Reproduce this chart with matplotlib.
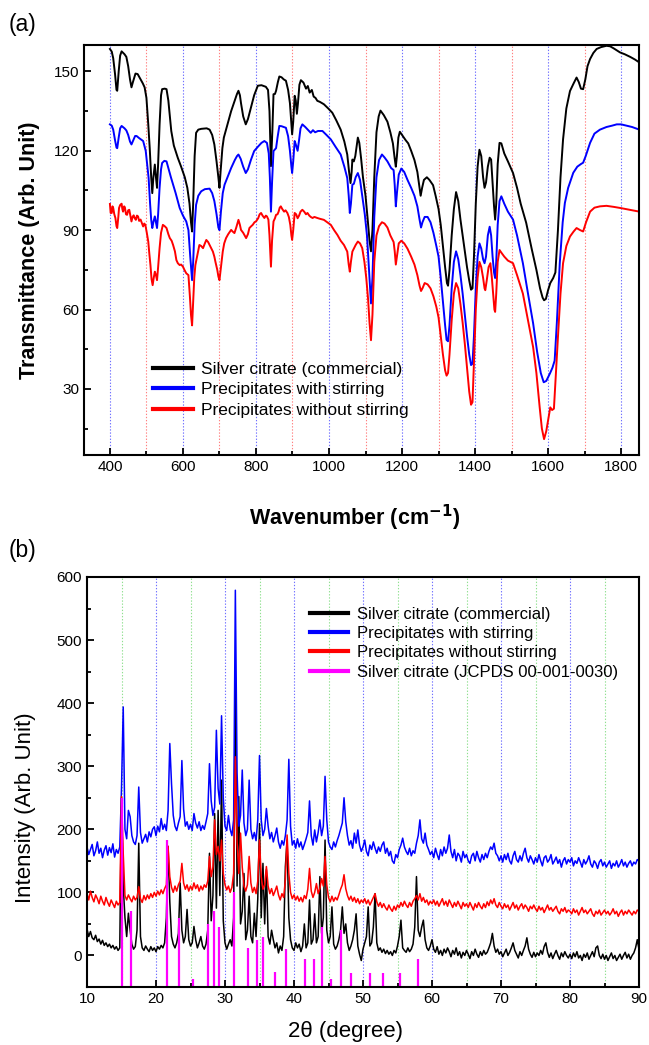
import numpy as np
import matplotlib
matplotlib.use("Agg")
import matplotlib.pyplot as plt
from matplotlib.ticker import MultipleLocator
from matplotlib.lines import Line2D

plt.rcParams['font.family'] = ['Liberation Sans', 'DejaVu Sans']

# ---------------- (a) FT-IR data (wavenumber, transmittance) ----------------
ir_black = [
    (400, 158.5), (405, 157.5), (409, 155), (414, 149), (418, 143), (420, 142.7), (424, 150), (428, 156),
    (432, 157.6), (440, 156.5), (445, 155.5), (450, 152), (455, 147), (459, 144), (463, 146), (470, 149.2),
    (476, 149), (482, 147.5), (490, 145.5), (495, 144), (500, 140), (505, 130), (509, 121), (513, 110),
    (516, 104), (519, 110), (523, 114.8), (526, 110), (529, 106), (532, 115), (536, 130), (540, 141),
    (543, 143.3), (550, 143.5), (555, 143.3), (560, 139), (568, 127.5), (575, 122), (586, 117.3), (595, 114),
    (605, 110), (612, 106), (618, 100), (622, 93), (625, 89.5), (628, 100), (632, 118), (636, 126.8),
    (642, 128), (650, 128.3), (665, 128.5), (673, 128), (680, 126), (686, 122.4), (692, 116), (697, 110),
    (700, 106), (703, 112), (708, 121), (712, 125), (720, 129), (732, 135), (742, 139), (748, 141.5),
    (752, 142.7), (756, 141), (759, 138), (765, 133), (772, 130), (778, 132), (786, 136.3), (795, 141),
    (805, 144.6), (815, 144.8), (827, 144.2), (833, 143), (837, 135), (841, 114.2), (845, 128), (848, 141.4),
    (852, 141.5), (855, 142.7), (860, 146), (864, 148.1), (870, 147.8), (876, 147), (882, 146.5), (888, 143),
    (893, 138), (897, 130), (899, 126.2), (902, 131), (906, 140.8), (909, 139), (912, 134), (915, 138),
    (919, 145), (923, 146.7), (930, 145.8), (937, 143.5), (942, 144.5), (947, 142), (953, 143), (958, 140.5),
    (963, 140), (968, 138.9), (975, 138.5), (986, 137.6), (998, 136), (1009, 134.4), (1020, 131.5), (1032, 128),
    (1042, 123.5), (1050, 118.6), (1055, 112), (1059, 107.8), (1062, 112), (1064, 116.7), (1068, 116), (1072, 118),
    (1076, 122), (1079, 125), (1083, 123), (1088, 117), (1093, 110), (1100, 103), (1106, 94), (1111, 86),
    (1115, 82), (1119, 90), (1124, 110), (1130, 127), (1136, 133), (1141, 135.2), (1150, 133.5), (1160, 131),
    (1168, 127), (1175, 122.8), (1180, 117), (1183, 114), (1186, 118), (1190, 125), (1194, 127.2), (1200, 126),
    (1210, 124), (1217, 122.8), (1225, 120), (1234, 116.5), (1242, 112), (1247, 107), (1251, 103), (1255, 106),
    (1260, 109), (1268, 110), (1275, 109), (1285, 107), (1292, 103), (1300, 98), (1306, 92), (1312, 84),
    (1318, 76), (1323, 70), (1326, 69), (1330, 75), (1336, 88), (1342, 98), (1348, 104.4), (1354, 101),
    (1360, 94), (1366, 88), (1372, 82), (1378, 76), (1384, 71), (1389, 67.5), (1393, 68), (1397, 80),
    (1402, 100), (1407, 114), (1412, 120.4), (1417, 118), (1422, 110), (1426, 106), (1430, 108), (1435, 114),
    (1440, 117.4), (1444, 116.7), (1448, 108), (1452, 99), (1455, 94), (1458, 100), (1462, 115), (1467, 123),
    (1472, 122.8), (1480, 119), (1490, 116), (1504, 111.6), (1515, 106), (1525, 100), (1540, 92.8), (1555, 83),
    (1568, 75), (1578, 68), (1585, 64.5), (1589, 63.5), (1594, 64), (1600, 67.3), (1606, 70), (1614, 71.9),
    (1620, 74), (1627, 90), (1634, 110), (1641, 124.3), (1650, 136), (1660, 142.6), (1670, 145.5), (1678, 147.7),
    (1684, 146), (1690, 143.5), (1696, 143.3), (1702, 147), (1708, 152), (1715, 154.7), (1724, 157), (1733, 158.5),
    (1745, 159.2), (1760, 159.7), (1770, 159.5), (1780, 158.7), (1797, 157.2), (1810, 156.5), (1825, 155.5),
    (1838, 154.5), (1850, 153.4),
]

ir_blue = [
    (400, 130), (405, 129.5), (409, 128), (414, 124), (418, 121.2), (420, 121), (424, 125), (428, 128.5),
    (432, 129.4), (440, 128.5), (445, 127.7), (450, 126), (455, 123.5), (459, 122.4), (464, 124), (469, 125.6),
    (473, 125.6), (480, 124.8), (491, 123.7), (498, 120), (502, 115), (506, 109.7), (510, 100), (513, 94),
    (516, 90.8), (519, 93), (523, 95.2), (526, 93), (529, 90.8), (532, 96), (536, 106), (540, 113),
    (543, 115.4), (549, 116.2), (555, 116), (561, 113), (567, 110), (573, 107.2), (580, 104), (591, 98.4),
    (600, 95.5), (609, 93.3), (615, 90), (620, 80), (625, 71.1), (628, 78), (632, 92), (636, 99.6),
    (642, 103), (650, 104.7), (660, 105.5), (673, 105.7), (680, 104), (686, 101), (692, 96), (697, 91),
    (700, 90), (704, 97), (709, 104), (714, 107.2), (722, 110), (732, 113.5), (742, 116.5), (748, 118),
    (752, 118.6), (758, 117), (765, 114), (772, 111.6), (778, 113), (786, 116.5), (795, 119.9), (805, 121.5),
    (815, 123), (823, 123.7), (830, 123), (835, 119), (838, 110), (841, 97), (844, 108), (848, 119.9),
    (852, 120.5), (855, 121), (859, 125), (864, 129.4), (870, 129.3), (876, 129), (882, 128.7), (888, 125.5),
    (893, 120), (897, 114), (899, 111.6), (902, 116), (906, 123.7), (910, 122), (914, 120), (918, 124),
    (922, 128.5), (927, 130), (935, 129), (942, 128), (950, 126.8), (956, 127.8), (962, 127), (970, 127.5),
    (982, 127.5), (993, 126), (1005, 124.3), (1018, 121.5), (1032, 118.6), (1042, 114), (1050, 109.7), (1054, 103),
    (1057, 96.5), (1060, 100), (1064, 107.2), (1068, 107.5), (1073, 110), (1079, 111.6), (1085, 109), (1091, 103),
    (1098, 96), (1104, 88), (1110, 74), (1115, 62.3), (1119, 72), (1124, 95), (1130, 110), (1137, 116.5),
    (1145, 118.6), (1152, 117.5), (1160, 116), (1170, 113.5), (1177, 112.7), (1180, 107), (1183, 99), (1186, 104),
    (1191, 111), (1198, 113.3), (1206, 112), (1215, 109), (1225, 106), (1234, 103), (1242, 99), (1248, 94),
    (1252, 91), (1256, 93), (1262, 95), (1270, 95), (1278, 93), (1286, 89), (1294, 84), (1300, 80),
    (1306, 72), (1312, 63), (1318, 54), (1322, 48.5), (1326, 48), (1330, 54), (1336, 68), (1342, 78),
    (1348, 82), (1354, 79), (1360, 73), (1366, 66), (1372, 58), (1378, 50), (1384, 43), (1389, 39),
    (1393, 39.5), (1397, 50), (1402, 68), (1407, 80), (1412, 85), (1417, 83), (1422, 79), (1426, 77.5),
    (1430, 80), (1435, 88), (1440, 91.3), (1444, 88), (1448, 80), (1452, 74), (1455, 71.9), (1458, 78),
    (1462, 92), (1467, 101), (1472, 102.8), (1480, 100), (1490, 97), (1504, 94), (1515, 88), (1531, 77.5),
    (1545, 66), (1559, 54.8), (1570, 44), (1580, 36), (1588, 32.5), (1595, 33), (1605, 35.8), (1612, 38),
    (1618, 40.7), (1624, 55), (1632, 77.5), (1640, 93), (1646, 100.3), (1655, 106), (1669, 111.7), (1680, 114),
    (1690, 115), (1696, 115.5), (1703, 118), (1715, 123), (1727, 126.5), (1742, 128), (1760, 129), (1775, 129.5),
    (1788, 130), (1800, 130), (1815, 129.5), (1830, 129), (1850, 128),
]

ir_red = [
    (400, 99.9), (402, 96.5), (405, 96.5), (407, 99), (409, 98.4), (412, 96), (415, 94.6), (418, 91.5),
    (420, 90.8), (423, 95), (425, 98.4), (428, 99.5), (432, 100), (434, 98), (436, 97), (439, 99),
    (441, 98.6), (444, 96), (447, 95.8), (450, 97.5), (453, 97.7), (456, 95.5), (459, 93.3), (462, 95),
    (465, 95.6), (468, 94.5), (471, 93.9), (474, 95.5), (477, 95.2), (480, 93.5), (484, 94), (488, 92.5),
    (491, 91.4), (494, 92.5), (497, 92), (501, 89), (505, 85.7), (508, 81), (511, 76.8), (514, 71.5),
    (517, 69.2), (520, 72), (523, 74.3), (526, 73), (529, 71.1), (532, 76), (536, 83.2), (540, 89),
    (545, 92), (550, 91.5), (555, 90.8), (560, 88.5), (564, 87), (569, 86), (573, 84.4), (578, 82),
    (582, 78.7), (586, 77.5), (591, 76.8), (595, 77), (600, 76.2), (604, 75), (609, 73.7), (615, 73),
    (619, 65), (622, 58), (625, 54), (628, 63), (631, 72), (634, 76.8), (640, 81), (645, 84.4),
    (650, 84), (655, 83.2), (660, 85), (664, 86.3), (669, 85.5), (673, 84.4), (678, 83), (682, 81.9),
    (686, 80), (689, 78), (694, 75), (697, 72.5), (700, 71.1), (704, 76), (709, 81.9), (713, 85),
    (718, 87), (724, 88.5), (732, 90.1), (736, 89.5), (741, 88.9), (746, 91), (752, 93.9), (756, 92),
    (759, 90.1), (765, 89), (769, 88), (773, 87), (778, 88.5), (782, 90.8), (787, 91.5), (791, 92),
    (796, 93), (800, 93.3), (806, 94.5), (810, 96), (814, 96.5), (818, 95.5), (823, 94.6), (827, 95.5),
    (830, 95.2), (834, 94), (837, 88), (841, 76.2), (844, 86), (848, 93.3), (852, 94.5), (855, 95.8),
    (859, 96), (862, 97), (865, 98.5), (868, 99), (872, 98), (877, 97), (881, 97.5), (886, 96.5),
    (890, 95), (894, 92), (897, 88), (899, 86.3), (902, 90), (906, 96.5), (910, 96), (914, 94.5),
    (918, 95.5), (922, 97), (927, 97.7), (932, 97), (937, 96), (941, 96.5), (946, 95.5), (950, 95),
    (955, 94.6), (960, 95), (968, 94.6), (975, 94.3), (986, 93.9), (995, 93), (1005, 92), (1014, 90),
    (1023, 88.2), (1032, 86), (1041, 84.4), (1046, 83), (1050, 81.9), (1054, 77), (1057, 74.3), (1060, 78),
    (1064, 81.9), (1068, 83), (1073, 84.4), (1079, 85.7), (1085, 85), (1091, 83.2), (1097, 78), (1102, 72),
    (1107, 64), (1111, 55), (1115, 48.4), (1119, 58), (1124, 78), (1130, 88), (1137, 91.5), (1145, 93),
    (1152, 92.5), (1160, 91), (1168, 88), (1177, 85.5), (1180, 82), (1183, 77), (1186, 80), (1191, 85),
    (1198, 86), (1206, 85), (1215, 83), (1225, 80), (1234, 77), (1242, 73), (1248, 69), (1252, 67),
    (1256, 68), (1262, 70), (1270, 69.5), (1278, 68), (1286, 65), (1294, 61), (1300, 57), (1306, 50),
    (1312, 43), (1318, 37), (1322, 35), (1326, 36), (1330, 43), (1336, 56), (1342, 66), (1348, 70),
    (1354, 68), (1360, 62), (1366, 55), (1372, 47), (1378, 38), (1384, 29), (1389, 24), (1393, 25),
    (1397, 40), (1402, 60), (1407, 72), (1412, 78), (1417, 76), (1422, 72), (1426, 68), (1428, 67.3),
    (1432, 71), (1437, 76), (1442, 77.5), (1446, 72), (1450, 65), (1453, 60), (1455, 59.1), (1458, 66),
    (1462, 78), (1467, 82.5), (1472, 81.5), (1480, 80), (1490, 78.5), (1504, 77.5), (1515, 73), (1531, 66),
    (1545, 56), (1559, 45.8), (1568, 36), (1577, 23), (1583, 15), (1589, 11), (1595, 14), (1600, 18),
    (1606, 23), (1611, 22), (1616, 22.5), (1621, 35), (1628, 52), (1634, 66), (1641, 77.5), (1650, 84),
    (1660, 87.6), (1670, 89.5), (1678, 90.8), (1688, 90), (1696, 89.5), (1704, 93), (1715, 97), (1727, 98.5),
    (1742, 99), (1760, 99.2), (1780, 98.8), (1797, 98.4), (1820, 97.8), (1850, 97),
]

ir_labels = ["Silver citrate (commercial)", "Precipitates with stirring", "Precipitates without stirring"]

# ---------------- (b) XRD data ----------------
xrd_2theta = np.arange(10.0, 90.001, 0.25)

xrd_black = [
    42, 30, 38, 28, 25, 32, 22, 26, 18, 24, 16, 20, 14, 18, 12, 16, 10, 14, 8, 12,
    250, 110, 60, 30, 67, 40, 18, 10, 14, 40, 178, 30, 12, 8, 15, 10, 6, 14, 8, 12,
    6, 14, 10, 16, 12, 20, 60, 173, 85, 30, 18, 12, 20, 35, 115, 40, 20, 30, 73, 25,
    15, 20, 46, 25, 12, 20, 30, 15, 10, 18, 40, 162, 55, 95, 225, 75, 230, 95, 278, 55,
    20, 10, 18, 25, 15, 60, 441, 110, 252, 50, 70, 130, 25, 40, 94, 30, 20, 67, 30, 90,
    209, 60, 146, 50, 136, 30, 18, 40, 25, 12, 20, 4, 15, 8, 30, 141, 183, 60, 25, 12,
    8, 20, 12, 18, 6, 15, 50, 12, 20, 88, 18, 25, 66, 20, 30, 125, 35, 60, 183, 40,
    20, 30, 77, 18, 10, 15, 25, 40, 77, 35, 50, 20, 8, 15, 25, 40, 66, 15, 2, -8,
    10, 20, 30, 77, 15, 20, 45, 98, 20, 8, 12, 5, 10, 3, 8, 2, 6, 0, 8, 4,
    15, 30, 56, 12, 8, 5, 12, 6, 10, 18, 45, 125, 40, 30, 45, 56, 25, 12, 8, 15,
    25, 10, 5, 14, 2, 8, 0, 10, 4, 12, 6, -2, 8, 2, 12, 0, 6, -4, 5, 0,
    8, 2, -5, 6, 0, 10, 2, -3, 6, 0, 8, 2, 5, 12, 20, 35, 15, 5, 10, 2,
    6, -2, 4, 10, 0, 5, 12, 20, 8, 2, -4, 6, 0, 8, 15, 28, 10, 2, -3, 5,
    -2, 4, 0, 8, 2, 14, 20, 5, -3, 4, -5, 2, 8, 0, -6, 4, -2, 6, 0, -4,
    2, -5, 4, -2, 6, -4, 0, -8, 2, -3, 4, -6, 0, 6, -2, 12, 15, 0, -5, 2,
    -6, 0, -8, -2, 4, -5, 0, -8, -3, 2, -6, 0, 5, -4, 2, -6, 0, 4, 12, 25,
    10,
]

xrd_blue = [
    172, 160, 168, 176, 158, 166, 180, 162, 170, 155, 167, 174, 159, 171, 163, 177, 156, 168, 162, 172,
    265, 394, 200, 185, 230, 220, 190, 180, 176, 190, 267, 195, 178, 185, 192, 180, 196, 188, 200, 204,
    190, 205, 196, 217, 200, 208, 198, 230, 336, 272, 222, 205, 198, 210, 220, 309, 232, 205, 212, 200,
    208, 198, 225, 210, 202, 212, 198, 206, 200, 212, 225, 304, 245, 222, 235, 357, 265, 240, 380, 250,
    205, 198, 222, 200, 190, 215, 579, 290, 205, 222, 294, 210, 190, 200, 278, 200, 185, 195, 182, 215,
    317, 215, 190, 200, 233, 205, 185, 195, 180, 190, 202, 180, 170, 182, 175, 190, 215, 311, 205, 175,
    182, 170, 185, 172, 180, 168, 176, 185, 195, 245, 190, 175, 199, 180, 195, 215, 190, 205, 284, 215,
    180, 172, 168, 180, 172, 182, 190, 200, 210, 250, 212, 190, 175, 182, 170, 194, 178, 199, 175, 165,
    172, 183, 165, 158, 175, 168, 180, 170, 162, 172, 165, 175, 180, 162, 170, 158, 165, 150, 146, 160,
    155, 168, 175, 186, 172, 165, 160, 170, 158, 166, 162, 178, 190, 215, 185, 178, 194, 175, 168, 160,
    165, 155, 170, 160, 152, 168, 158, 172, 162, 170, 191, 165, 155, 168, 150, 162, 158, 148, 165, 155,
    160, 150, 146, 158, 162, 150, 165, 155, 148, 160, 152, 162, 155, 165, 172, 168, 178, 162, 158, 150,
    158, 148, 160, 152, 162, 150, 145, 158, 165, 152, 148, 158, 150, 162, 170, 155, 148, 158, 152, 145,
    155, 148, 160, 150, 142, 155, 158, 148, 152, 160, 145, 150, 156, 146, 152, 140, 150, 155, 145, 152,
    148, 155, 142, 150, 146, 155, 148, 140, 152, 145, 150, 158, 145, 140, 150, 146, 138, 148, 152, 142,
    148, 140, 145, 150, 138, 146, 142, 150, 140, 145, 152, 142, 148, 140, 146, 150, 142, 148, 145, 152,
    150,
]

xrd_red = [
    98, 88, 102, 92, 85, 96, 90, 82, 94, 86, 80, 92, 84, 78, 88, 82, 76, 86, 80, 84,
    252, 162, 95, 88, 96, 90, 85, 94, 88, 92, 109, 90, 84, 95, 88, 96, 90, 98, 92, 100,
    94, 102, 96, 104, 98, 106, 112, 173, 125, 108, 100, 110, 102, 112, 118, 146, 115, 105, 112, 102,
    110, 104, 115, 106, 112, 102, 110, 104, 112, 108, 118, 157, 125, 140, 215, 160, 173, 150, 183, 130,
    112, 104, 110, 100, 108, 130, 315, 180, 130, 194, 140, 110, 102, 112, 157, 115, 100, 108, 98, 118,
    183, 125, 105, 112, 141, 110, 98, 106, 95, 102, 110, 96, 88, 98, 92, 120, 191, 130, 100, 90,
    96, 88, 94, 86, 92, 85, 95, 90, 105, 138, 102, 92, 100, 114, 98, 106, 122, 110, 157, 112,
    92, 85, 94, 86, 92, 88, 96, 105, 112, 128, 106, 95, 88, 94, 86, 92, 84, 90, 82, 88,
    84, 90, 82, 88, 80, 86, 92, 98, 85, 78, 84, 76, 82, 76, 72, 80, 74, 70, 78, 72,
    80, 76, 84, 78, 86, 80, 76, 84, 78, 86, 90, 95, 88, 98, 86, 92, 84, 88, 80, 86,
    82, 88, 80, 86, 78, 84, 90, 80, 86, 78, 88, 82, 76, 84, 78, 86, 80, 74, 84, 78,
    82, 76, 84, 78, 72, 82, 76, 84, 78, 74, 82, 76, 85, 79, 88, 82, 90, 80, 76, 84,
    78, 74, 82, 76, 80, 72, 78, 84, 75, 80, 72, 78, 82, 74, 80, 76, 70, 78, 74, 80,
    74, 70, 78, 72, 76, 68, 74, 80, 72, 76, 70, 74, 78, 70, 66, 74, 70, 76, 68, 72,
    70, 66, 74, 68, 72, 64, 70, 76, 68, 72, 66, 70, 74, 66, 62, 70, 66, 72, 64, 68,
    72, 66, 70, 64, 68, 74, 66, 70, 62, 68, 72, 64, 70, 66, 72, 68, 64, 70, 66, 72,
    70,
]

# JCPDS reference lines (position, top of stick)
jcpds_pos = [15.1, 16.4, 21.6, 23.4, 25.4, 27.5, 28.4, 29.1, 31.3, 33.3, 34.6, 35.5,
             37.2, 38.8, 41.6, 42.9, 44.0, 45.3, 46.8, 48.3, 51.0, 52.9, 55.3, 57.9]
jcpds_top = [250, 70, 183, 60, -38, 50, 70, 45, 100, 12, 25, 30,
             -27, 10, -5, -5, 45, -38, 40, -28, -28, -28, -28, -5]

xrd_labels = ["Silver citrate (commercial)", "Precipitates with stirring",
              "Precipitates without stirring", "Silver citrate (JCPDS 00-001-0030)"]

# ---------------- figure ----------------
W, H = 649, 1045
fig = plt.figure(figsize=(W / 100, H / 100), dpi=100)

axA = fig.add_axes([84 / W, 1 - 455 / H, 555 / W, 410 / H])
axB = fig.add_axes([87 / W, 1 - 987 / H, 552 / W, 410 / H])

def style(ax):
    for s in ax.spines.values():
        s.set_linewidth(1.5)
    ax.tick_params(which='both', direction='in', top=False, right=False, width=1.3, labelsize=11)
    ax.tick_params(which='major', length=5)
    ax.tick_params(which='minor', length=3)

# ---- panel (a)
dot = (0, (1.2, 1.6))
for v in range(400, 1801, 200):
    axA.axvline(v, color='#7070ff', lw=0.8, ls=dot, zorder=0)
for v in range(500, 1701, 200):
    axA.axvline(v, color='#ff8080', lw=0.8, ls=dot, zorder=0)

for data, col, lab in zip([ir_black, ir_blue, ir_red], ['black', '#0000ff', '#ff0000'], ir_labels):
    arr = np.array(data)
    axA.plot(arr[:, 0], arr[:, 1], color=col, lw=1.4, label=lab)

axA.set_xlim(329, 1849)
axA.set_ylim(5, 160)
axA.xaxis.set_major_locator(MultipleLocator(200))
axA.xaxis.set_minor_locator(MultipleLocator(100))
axA.yaxis.set_major_locator(MultipleLocator(30))
axA.yaxis.set_minor_locator(MultipleLocator(15))
style(axA)
legA = axA.legend(loc='upper left', bbox_to_anchor=(0.124, 0.228), frameon=False, fontsize=12.5,
                  handlelength=2.3, handletextpad=0.5, labelspacing=0.32, borderpad=0, borderaxespad=0)
for l in legA.get_lines():
    l.set_linewidth(3)

fig.text(22 / W, 1 - 25 / H, "(a)", fontsize=16.5, ha='center', va='center')
fig.text(355 / W, 1 - 518 / H, r"Wavenumber (cm$^{\mathbf{-1}}$)", fontsize=15.5, fontweight='bold',
         ha='center', va='center')
fig.text(30 / W, 1 - 250 / H, "Transmittance (Arb. Unit)", fontsize=15.5, fontweight='bold',
         rotation=90, ha='center', va='center')

# ---- panel (b)
for v in range(20, 81, 10):
    axB.axvline(v, color='#7070ff', lw=0.8, ls=dot, zorder=0)
for v in range(15, 86, 10):
    axB.axvline(v, color='#90e090', lw=0.8, ls=dot, zorder=0)

axB.plot(xrd_2theta, xrd_black, color='black', lw=1.1, label=xrd_labels[0])
axB.plot(xrd_2theta, xrd_blue, color='#0000ff', lw=1.1, label=xrd_labels[1])
axB.plot(xrd_2theta, xrd_red, color='#ff0000', lw=1.1, label=xrd_labels[2])
axB.vlines(jcpds_pos, -50, jcpds_top, color='#ff00ff', lw=1.6, label=xrd_labels[3])

axB.set_xlim(10, 90)
axB.set_ylim(-50, 600)
axB.xaxis.set_major_locator(MultipleLocator(10))
axB.xaxis.set_minor_locator(MultipleLocator(5))
axB.yaxis.set_major_locator(MultipleLocator(100))
axB.yaxis.set_minor_locator(MultipleLocator(50))
style(axB)
handles = [Line2D([], [], color=c, lw=3) for c in ['black', '#0000ff', '#ff0000', '#ff00ff']]
axB.legend(handles, xrd_labels, loc='upper left', bbox_to_anchor=(0.404, 0.928), frameon=False,
           fontsize=12, handlelength=2.3, handletextpad=0.5, labelspacing=0.26, borderpad=0, borderaxespad=0)

fig.text(22 / W, 1 - 550 / H, "(b)", fontsize=16.5, ha='center', va='center')
fig.text(345 / W, 1 - 1032 / H, "2θ (degree)", fontsize=16, ha='center', va='center')
fig.text(26 / W, 1 - 808 / H, "Intensity (Arb. Unit)", fontsize=16, rotation=90, ha='center', va='center')

fig.savefig("out.png", dpi=100)
